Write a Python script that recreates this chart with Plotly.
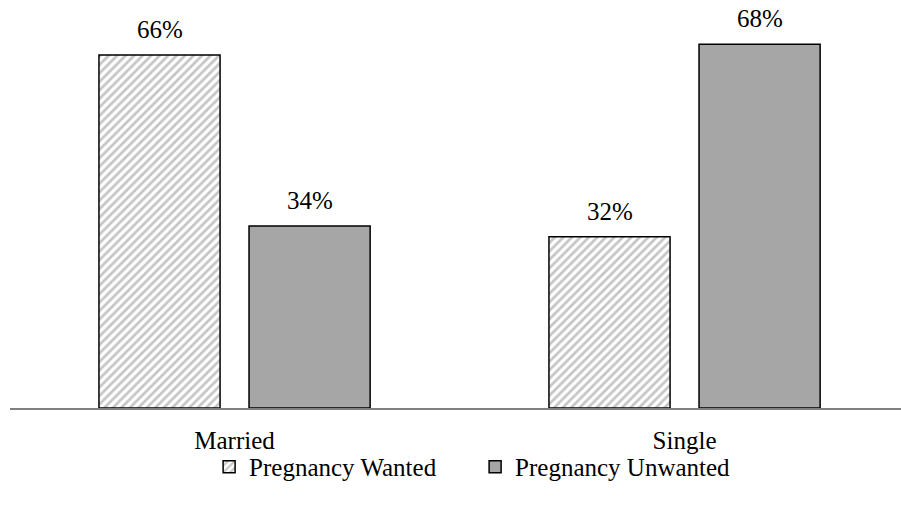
import plotly.graph_objects as go

categories = ["Married", "Single"]
wanted = [0.66, 0.32]
unwanted = [0.34, 0.68]
series_names = ["Pregnancy Wanted", "Pregnancy Unwanted"]

FONT = "Liberation Serif, Times New Roman, serif"

fig = go.Figure()

fig.add_trace(go.Bar(
    x=categories,
    y=wanted,
    name=series_names[0],
    marker=dict(
        color="white",
        line=dict(color="black", width=1.5),
        pattern=dict(shape="/", fgcolor="#8c8c8c", bgcolor="white",
                     size=6, solidity=0.45, fillmode="overlay"),
    ),
    hoverinfo="skip",
))

fig.add_trace(go.Bar(
    x=categories,
    y=unwanted,
    name=series_names[1],
    marker=dict(color="#a6a6a6", line=dict(color="black", width=1.5)),
    hoverinfo="skip",
))

# value labels above each bar
for vals, shift in [(wanted, -75), (unwanted, 75)]:
    for cat, v in zip(categories, vals):
        fig.add_annotation(
            x=cat, y=v, text=f"{v:.0%}", showarrow=False,
            xshift=shift, yshift=10, yanchor="bottom",
            font=dict(family=FONT, size=25, color="black"),
        )

fig.update_layout(
    width=901,
    height=510,
    paper_bgcolor="white",
    plot_bgcolor="white",
    barmode="group",
    bargap=0.333,
    bargroupgap=0.193,
    margin=dict(l=10, r=0, t=10, b=102, autoexpand=False),
    font=dict(family=FONT, size=25, color="black"),
    showlegend=True,
    legend=dict(
        orientation="h",
        x=0.522, xanchor="center",
        y=-0.148, yanchor="middle",
        bgcolor="rgba(0,0,0,0)",
        font=dict(family=FONT, size=25),
        itemwidth=30,
        entrywidth=221,
        traceorder="normal",
    ),
    xaxis=dict(
        range=[-0.499, 1.481],
        showline=True,
        linecolor="#808080",
        linewidth=1.5,
        showgrid=False,
        ticks="",
        ticklabelstandoff=9,
        tickfont=dict(family=FONT, size=25),
    ),
    yaxis=dict(
        range=[0, 0.744],
        visible=False,
        showgrid=False,
        zeroline=False,
    ),
)

fig.write_html(
    "out.html",
    config={"displayModeBar": False},
    post_script="document.body.style.margin='0';document.body.style.overflow='hidden';",
)
